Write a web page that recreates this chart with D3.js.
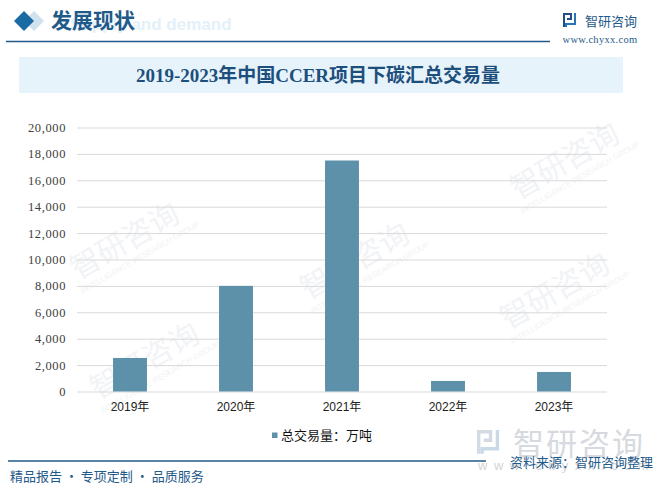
<!DOCTYPE html>
<html>
<head>
<meta charset="utf-8">
<script src="https://cdn.jsdelivr.net/npm/d3@7"></script>
<style>
html,body{margin:0;padding:0;background:#fff;}
svg{display:block;}
</style>
</head>
<body>
<svg id="chart" width="661" height="494"></svg>
<script>
const categories = ["2019年", "2020年", "2021年", "2022年", "2023年"];
const values = [2540, 8000, 17500, 800, 1480];
const yTicks = [0, 2000, 4000, 6000, 8000, 10000, 12000, 14000, 16000, 18000, 20000];
const seriesName = "总交易量：万吨";
const chartTitle = "2019-2023年中国CCER项目下碳汇总交易量";

const svg = d3.select("#chart");
const blue = "#1f5a8a";
const cjk = "'Noto Sans CJK SC', 'Noto Sans', sans-serif";

// faint diagonal watermarks
const wm = [[130,250],[360,270],[570,170],[560,300],[150,370]];
wm.forEach(([x,y]) => {
  const g = svg.append("g").attr("transform", `translate(${x},${y}) rotate(-30)`);
  g.append("text").attr("x", 0).attr("y", 0).attr("text-anchor", "middle")
    .attr("font-family", cjk).attr("font-size", 30).attr("fill", "#f1f3f6").text("智研咨询");
  g.append("text").attr("x", 5).attr("y", 14).attr("text-anchor", "middle")
    .attr("font-family", "'Liberation Sans', sans-serif").attr("font-size", 8).attr("fill", "#f1f3f6")
    .text("INTELLIGENCE RESEARCH GROUP");
});

// header
svg.append("text").attr("x", 70).attr("y", 30).attr("font-family", "'Liberation Sans', Arial, sans-serif")
  .attr("font-weight", "bold").attr("font-size", 17).attr("fill", "#e4f0f9").text("Supply and demand");
svg.append("path").attr("d", "M34,11 L44,21 L34,31 L24,21 Z").attr("fill", "#cfe2ee");
svg.append("path").attr("d", "M24,11 L34,21 L24,31 L14,21 Z").attr("fill", "#1a6ba3");
svg.append("text").attr("x", 51).attr("y", 28).attr("font-family", cjk).attr("font-weight", "bold")
  .attr("font-size", 21).attr("fill", blue).text("发展现状");
svg.append("line").attr("x1", 6).attr("x2", 550).attr("y1", 41.5).attr("y2", 41.5)
  .attr("stroke", blue).attr("stroke-width", 1.6);

// logo top right
function logoIcon(g, x, y, s, c1, c2) {
  const gg = g.append("g").attr("transform", `translate(${x},${y}) scale(${s})`);
  gg.append("path").attr("d", "M0,0 H9 V7 H4 V5 H7 V2 H2 V14 H0 Z").attr("fill", c1);
  gg.append("path").attr("d", "M11,0 H13 V12 H4 V14 H2 V10 H11 Z").attr("fill", c2);
}
logoIcon(svg, 563, 13, 1, "#1f4e8a", "#2a73b8");
svg.append("text").attr("x", 585).attr("y", 26).attr("font-family", cjk).attr("font-size", 13)
  .attr("fill", blue).text("智研咨询");
svg.append("text").attr("x", 600).attr("y", 43).attr("text-anchor", "middle")
  .attr("font-family", "'Liberation Serif', serif").attr("font-size", 10.5).attr("fill", blue)
  .attr("letter-spacing", 0.3).text("www.chyxx.com");

// title box
svg.append("rect").attr("x", 19).attr("y", 57).attr("width", 604).attr("height", 36).attr("fill", "#e7f3fb");
svg.append("text").attr("x", 318).attr("y", 82).attr("text-anchor", "middle")
  .attr("font-family", "'Liberation Serif', 'Noto Sans CJK SC', serif").attr("font-weight", "bold")
  .attr("font-size", 19).attr("fill", "#1c4f7c").text(chartTitle);

// chart
const m = {left: 77, right: 607, top: 127.5, bottom: 391.5};
const x = d3.scaleBand().domain(categories).range([m.left, m.right]).paddingInner(0.68).paddingOuter(0.34);
const y = d3.scaleLinear().domain([0, 20000]).range([m.bottom, m.top]);

const yAxis = d3.axisLeft(y).tickValues(yTicks).tickSize(-(m.right - m.left)).tickPadding(11)
  .tickFormat(d3.format(","));
const yg = svg.append("g").attr("transform", `translate(${m.left},0)`).call(yAxis);
yg.select(".domain").remove();
yg.selectAll(".tick line").attr("stroke", "#d9d9d9").attr("stroke-width", 1);
yg.selectAll(".tick text").attr("font-family", "'Liberation Serif', serif").attr("font-size", 12.5)
  .attr("fill", "#404040").attr("letter-spacing", 0.6);

svg.append("g").selectAll("rect").data(values).join("rect")
  .attr("x", (d, i) => x(categories[i]))
  .attr("width", x.bandwidth())
  .attr("y", d => y(d))
  .attr("height", d => y(0) - y(d))
  .attr("fill", "#5d91a9");

const xAxis = d3.axisBottom(x).tickSize(0).tickPadding(11);
const xg = svg.append("g").attr("transform", `translate(0,${m.bottom})`).call(xAxis);
xg.select(".domain").remove();
xg.selectAll(".tick text").attr("font-family", "'Liberation Sans', " + cjk).attr("font-size", 12)
  .attr("fill", "#222");

// legend
svg.append("rect").attr("x", 272).attr("y", 432.5).attr("width", 5.5).attr("height", 5.5).attr("fill", "#5d91a9");
svg.append("text").attr("x", 281).attr("y", 440).attr("font-family", cjk).attr("font-size", 13)
  .attr("fill", "#111").text(seriesName);

// bottom-right watermark logo
logoIcon(svg, 477, 430, 1.7, "#d3dae3", "#c9d9ea");
svg.append("text").attr("x", 513).attr("y", 455).attr("font-family", cjk).attr("font-size", 31)
  .attr("fill", "#d6dae0").attr("letter-spacing", 2).text("智研咨询");
svg.append("text").attr("x", 478).attr("y", 470).attr("font-family", "'Liberation Sans', sans-serif")
  .attr("font-size", 13).attr("fill", "#d4d4d4").attr("letter-spacing", 6.5).text("www.chyxx.com");

// footer
svg.append("line").attr("x1", 8).attr("x2", 486).attr("y1", 461).attr("y2", 461)
  .attr("stroke", blue).attr("stroke-width", 1.5);
svg.append("text").attr("x", 10).attr("y", 481).attr("font-family", cjk).attr("font-size", 13)
  .attr("fill", blue).text("精品报告 · 专项定制 · 品质服务");
svg.append("text").attr("x", 653).attr("y", 467).attr("text-anchor", "end").attr("font-family", cjk)
  .attr("font-size", 13).attr("fill", blue).text("资料来源：智研咨询整理");
</script>
</body>
</html>
